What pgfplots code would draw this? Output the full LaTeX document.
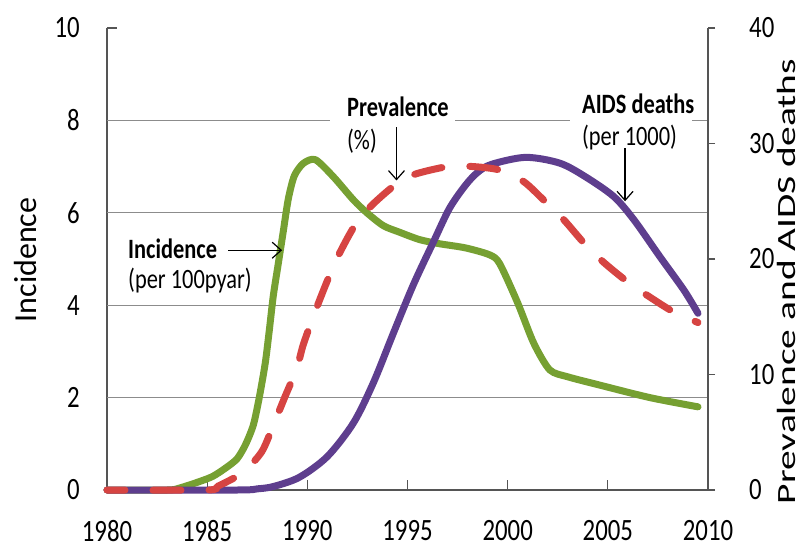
\documentclass[border=0pt]{standalone}
\usepackage{fontspec}
\setmainfont{Carlito}[FakeStretch=0.8]
\newfontfamily\ltitlefont{Carlito}
\newfontfamily\rtitlefont{Carlito}[FakeStretch=1.5]
\usepackage{pgfplots}
\pgfplotsset{compat=1.18}
\usetikzlibrary{arrows.meta}
\definecolor{incgreen}{RGB}{118,160,50}
\definecolor{prevred}{RGB}{214,68,66}
\definecolor{deathpurple}{RGB}{94,62,142}
\definecolor{gridgray}{RGB}{140,140,140}
\definecolor{axgray}{RGB}{85,85,85}

\pgfplotsset{
  common/.style={
    at={(0pt,0pt)}, anchor=south west,
    scale only axis, width=601pt, height=462pt,
    xmin=1980, xmax=2010,
    clip=false,
    /pgf/number format/assume math mode=true,
    /pgf/number format/set thousands separator={},
    tick label style={font=\fontsize{31}{34}\selectfont, inner sep=0pt},
    axis line style={axgray, line width=1.5pt},
    tick style={axgray, line width=1.3pt},
  }
}

\begin{document}
\begin{tikzpicture}
\begin{axis}[common,
  ymin=0, ymax=10,
  axis x line*=bottom, axis y line*=left,
  xtick={1980,1985,...,2010}, ytick={0,2,...,10},
  tick align=inside, major tick length=10pt,
  xticklabel style={yshift=-30pt},
  yticklabel style={xshift=-27pt},
  extra y ticks={2,4,6,8}, extra y tick labels={},
  extra y tick style={grid=major, major tick length=0pt},
  grid style={gridgray, line width=1.3pt},
]
\addplot[incgreen, line width=7pt, smooth, tension=0.45, line cap=round, line join=round] coordinates {
(1980,0) (1983,0) (1983.6,0.04) (1984.6,0.18) (1985.3,0.3) (1986.0,0.5) (1986.5,0.68)
(1986.9,0.97) (1987.3,1.4) (1987.6,2.0) (1987.9,2.75) (1988.1,3.45) (1988.3,4.2)
(1988.55,4.9) (1988.8,5.6) (1989.05,6.3) (1989.35,6.8) (1989.8,7.07) (1990.4,7.15)
(1991.3,6.78) (1992.3,6.28) (1993.0,5.99) (1993.8,5.72) (1994.6,5.58) (1995.6,5.42)
(1996.6,5.33) (1997.9,5.24) (1999.1,5.09) (1999.6,4.9) (2000.5,4.05) (2001.3,3.18)
(2002.1,2.6) (2003.0,2.45) (2004.6,2.27) (2007.1,2.0) (2009.5,1.8)
};
\end{axis}
\begin{axis}[common,
  ymin=0, ymax=40,
  axis y line*=right, axis x line=none,
  ytick={0,10,...,40},
  tick align=outside, major tick length=7pt,
  yticklabel style={xshift=34pt},
]
\addplot[deathpurple, line width=7pt, smooth, tension=0.5, line cap=round] coordinates {
(1980,0) (1986.5,0) (1987.5,0.1) (1988.3,0.3) (1989.6,1.1) (1991.0,2.9) (1992.3,5.8)
(1993.3,9.3) (1994.3,13.6) (1995.3,17.8) (1996.3,21.5) (1997.1,24.4) (1997.9,26.4)
(1998.5,27.5) (1999.2,28.2) (2000.9,28.8) (2002.6,28.3) (2003.9,27.1) (2005.3,25.4) (2006.3,23.4)
(2007.6,20.2) (2008.8,17.3) (2009.5,15.3)
};
\addplot[prevred, line width=7pt, smooth, tension=0.45, line cap=round, dash pattern=on 28pt off 28pt, dash phase=10pt] coordinates {
(1980,0) (1985,0) (1985.56,0.35) (1986.77,1.5) (1987.72,3.3) (1988.3,5.6) (1988.89,8.1)
(1989.47,10.5) (1989.8,12.6) (1990.38,15.4) (1990.97,18.0) (1991.55,20.3) (1992.3,22.7)
(1993.13,24.5) (1994.3,26.3) (1995.3,27.3) (1997.0,28.0) (1998.3,28.0) (1999.6,27.7)
(2000.8,26.7) (2001.8,25.1) (2002.8,23.4) (2003.8,21.4) (2004.8,19.7) (2006.0,18.0)
(2007.1,16.7) (2008.3,15.4) (2009.5,14.5)
};
% gaps in the gridline behind the labels
\fill[white] (axis cs:1991.13,31.2) rectangle (axis cs:1997.37,32.8);
\fill[white] (axis cs:2003.11,31.2) rectangle (axis cs:2009.2,32.8);
% annotations
\node[anchor=west, inner sep=0pt, font=\fontsize{28}{32}\selectfont\bfseries] at (axis cs:1981.05,20.9) {Incidence};
\node[anchor=west, inner sep=0pt, font=\fontsize{28}{32}\selectfont] at (axis cs:1981.05,18.1) {(per 100pyar)};
\draw[black, line width=1.2pt, -{Straight Barb[length=9pt,width=16pt]}] (axis cs:1986.04,20.76) -- (axis cs:1988.74,20.76);
\node[anchor=west, inner sep=0pt, font=\fontsize{28}{32}\selectfont\bfseries] at (axis cs:1991.98,33.2) {Prevalence};
\node[anchor=west, inner sep=0pt, font=\fontsize{28}{32}\selectfont] at (axis cs:1991.98,30.2) {(\%)};
\draw[black, line width=1.2pt, -{Straight Barb[length=9pt,width=16pt]}] (axis cs:1994.45,31.4) -- (axis cs:1994.45,26.8);
\node[anchor=west, inner sep=0pt, font=\fontsize{28}{32}\selectfont\bfseries] at (axis cs:2003.71,33.4) {AIDS deaths};
\node[anchor=west, inner sep=0pt, font=\fontsize{28}{32}\selectfont] at (axis cs:2003.71,30.5) {(per 1000)};
\draw[black, line width=1.2pt, -{Straight Barb[length=9pt,width=16pt]}] (axis cs:2005.86,29.6) -- (axis cs:2005.86,25.0);
% axis titles
\node[rotate=90, anchor=center, inner sep=0pt, font=\fontsize{26.3}{30}\rtitlefont] at (rel axis cs:1.131,0.451) {Prevalence and AIDS deaths};
\node[rotate=90, anchor=center, inner sep=0pt, font=\fontsize{32}{36}\ltitlefont] at (rel axis cs:-0.1364,0.498) {Incidence};
\end{axis}
\pgfresetboundingbox
\path (-107pt,-60pt) rectangle (696pt,490pt);
\end{tikzpicture}
\end{document}
